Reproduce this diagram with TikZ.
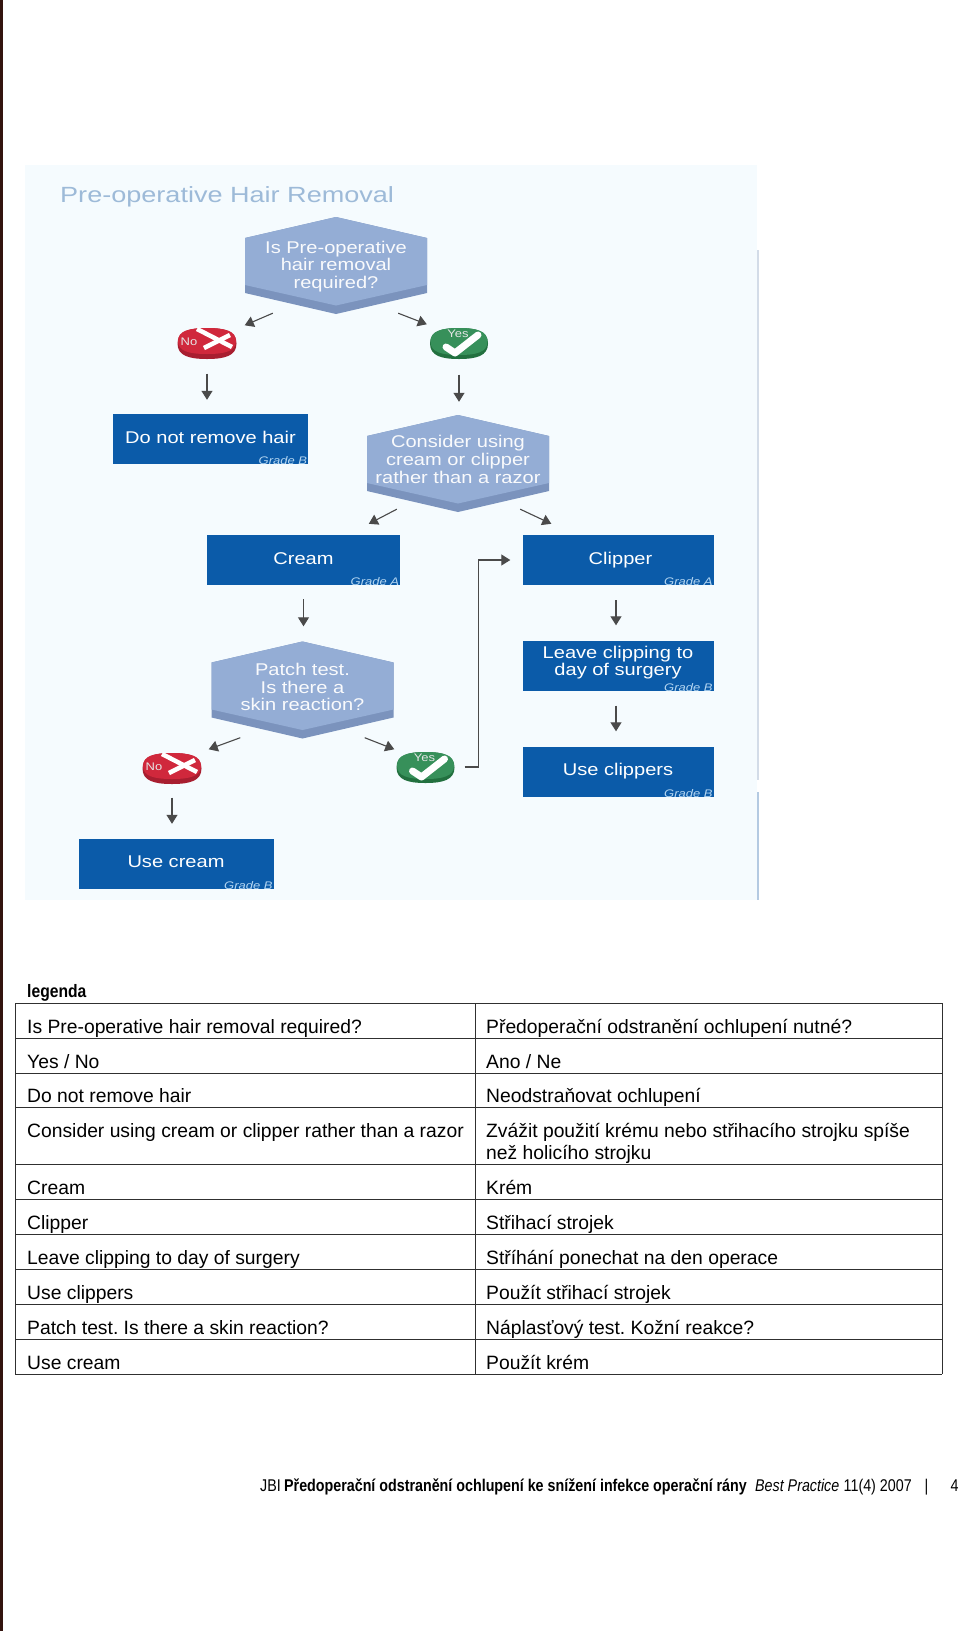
\documentclass[tikz,border=0pt]{standalone}
\usepackage{fontspec}
\setmainfont{Liberation Sans}
\newfontfamily\wideface[FakeStretch=1.18]{Liberation Sans}
\newfontfamily\titleface[FakeStretch=1.23]{Liberation Sans}
\newfontfamily\narrowface[FakeStretch=.84]{Liberation Sans}
\newfontfamily\legendface[FakeStretch=.87]{Liberation Sans}
\usetikzlibrary{arrows.meta}

\definecolor{scanbg}{HTML}{F5FBFE}
\definecolor{edgeline}{HTML}{D3DCE8}
\definecolor{edgeblue}{HTML}{B4CAE2}
\definecolor{pagebar}{HTML}{33140F}
\definecolor{hexface}{HTML}{94ADD5}
\definecolor{hexrim}{HTML}{7B93BD}
\definecolor{boxblue}{HTML}{0B5BA9}
\definecolor{gradeblue}{HTML}{B4D6F2}
\definecolor{titleblue}{HTML}{9DBAD8}
\definecolor{flowgrey}{HTML}{4A4A4A}
\definecolor{nored}{HTML}{D0283C}
\definecolor{norim}{HTML}{A81E30}
\definecolor{yesgreen}{HTML}{37905A}
\definecolor{yesrim}{HTML}{22703F}
\definecolor{rulegrey}{HTML}{303030}

\tikzset{
	flowarrow/.style={draw=flowgrey, line width=1.1pt, -{Triangle[length=9pt,width=11pt]}},
	bluebox/.style={fill=boxblue, minimum width=#1, minimum height=50pt, inner sep=0pt,
		text=white, align=center, font=\wideface\fontsize{17}{17.6}\selectfont, text depth=3pt},
	bluebox/.default=193pt,
	gradelabel/.style={anchor=south east, inner sep=0pt, text=gradeblue,
		font=\wideface\fontsize{11}{12}\itshape\selectfont},
	hexanchor/.style={minimum width=182pt, minimum height=97pt, inner sep=0pt},
	hextext/.style={text=white!94!hexface, align=center, inner sep=0pt,
		font=\wideface\fontsize{17}{17.6}\selectfont},
	badgetext/.style={text=white!90!black, inner sep=0pt, font=\wideface\fontsize{11}{12}\selectfont},
	tabletext/.style={anchor=base west, inner sep=0pt, font=\frenchspacing\fontsize{19.3}{22}\selectfont},
	foottext/.style={anchor=base west, inner sep=0pt, font=\narrowface\fontsize{17}{20}\selectfont},
}

% name, x, y, text shift, text
\newcommand{\hexbox}[5]{
	\begin{scope}[shift={(#2,#3)}]
		\fill[hexrim] (0,-48.5) -- (91,-27.5) -- (91,27.5) -- (0,48.5) -- (-91,27.5) -- (-91,-27.5) -- cycle;
		\fill[hexface] (0,-48.5) -- (91,-27.5) -- (91,19.5) -- (0,40) -- (-91,19.5) -- (-91,-27.5) -- cycle;
	\end{scope}
	\node[hexanchor] (#1) at (#2,#3) {};
	\node[hextext] (#1-text) at ([yshift=#4]#1) {#5};
}
% half width, half height of a badge outline
\newcommand{\badgeoutline}[2]{
	(-#1,0) .. controls (-#1,-0.8*#2) and (-0.6*#1,-#2) .. (0,-#2)
	.. controls (0.6*#1,-#2) and (#1,-0.8*#2) .. (#1,0)
	.. controls (#1,0.8*#2) and (0.6*#1,#2) .. (0,#2)
	.. controls (-0.6*#1,#2) and (-#1,0.8*#2) .. (-#1,0) -- cycle
}
% name, x, y
\newcommand{\nobadge}[3]{
	\begin{scope}[shift={(#2,#3)}]
		\fill[norim, yshift=-0.5pt] \badgeoutline{29.5}{15.5};
		\fill[nored, yshift=2pt] \badgeoutline{29}{13};
		\draw[white, line width=4.5pt] (-10,-14) -- (25,4);
		\draw[white, line width=4.5pt] (-3,5) -- (23,-8);
	\end{scope}
	\node[minimum width=59pt, minimum height=31pt, inner sep=0pt] (#1) at (#2,#3) {};
	\node[badgetext] (#1-text) at ([shift={(-18pt,1pt)}]#1) {No};
}
\newcommand{\yesbadge}[3]{
	\begin{scope}[shift={(#2,#3)}]
		\fill[yesrim, yshift=-0.5pt] \badgeoutline{29}{15.5};
		\fill[yesgreen, yshift=1.5pt] \badgeoutline{28.5}{13.5};
		\draw[white, line width=7pt, line join=round, line cap=round] (-13,4) -- (-4,10) -- (19,-8);
	\end{scope}
	\node[minimum width=58pt, minimum height=31pt, inner sep=0pt] (#1) at (#2,#3) {};
	\node[badgetext] (#1-text) at ([shift={(-1pt,9pt)}]#1) {Yes};
}

\begin{document}
\begin{tikzpicture}[x=1pt,y=-1pt]
	\useasboundingbox (0,0) rectangle (960,1631);

	% scan background
	\fill[pagebar] (0,0) rectangle (2.5,1631);
	\fill[scanbg] (25,165) rectangle (757,900);
	\draw[edgeline, line width=1.5pt] (758,250) -- (758,780);
	\draw[edgeblue, line width=1.5pt] (758,792) -- (758,900);

	\node[anchor=base west, inner sep=0pt, text=titleblue, font=\titleface\fontsize{22}{24}\selectfont] (title) at (60,202) {Pre-operative Hair Removal};

	% decisions
	\hexbox{hexrequired}{336}{265.5}{-1pt}{Is Pre-operative\\hair removal\\required?}
	\hexbox{hexconsider}{458}{463.5}{4pt}{Consider using\\cream or clipper\\rather than a razor}
	\hexbox{hexpatch}{302.5}{690}{3pt}{Patch test.\\Is there a\\skin reaction?}

	% badges
	\nobadge{noone}{207}{343}
	\yesbadge{yesone}{459}{343}
	\nobadge{notwo}{172}{768}
	\yesbadge{yestwo}{425.5}{767}

	% boxes
	\node[bluebox=195pt] (boxnohair) at (210.5,439) {Do not remove hair};
	\node[bluebox=193pt] (boxcream) at (303.5,560) {Cream};
	\node[bluebox=191pt] (boxclipper) at (618,560) {\hspace{5pt}Clipper};
	\node[bluebox=191pt, text depth=9pt] (boxleave) at (618,665.5) {Leave clipping to\\day of surgery};
	\node[bluebox=191pt, text depth=5pt] (boxuseclip) at (618,771.5) {Use clippers};
	\node[bluebox=195pt, text depth=5pt] (boxusecream) at (176,864) {Use cream};

	% grades
	\foreach \boxname/\grade in {boxnohair/B, boxcream/A, boxclipper/A, boxleave/B, boxuseclip/B, boxusecream/B}
		\node[gradelabel] (\boxname-grade) at ([xshift=-1pt,yshift=-1pt]\boxname.south east) {Grade \grade};

	% arrows
	\draw[flowarrow] ([xshift=28pt,yshift=1pt]hexrequired.south west) -- ([xshift=8pt,yshift=2pt]noone.north east);
	\draw[flowarrow] ([xshift=-29pt,yshift=1pt]hexrequired.south east) -- ([xshift=-3pt,yshift=3pt]yesone.north west);
	\draw[flowarrow] ([yshift=-15pt]noone.south) -- ([yshift=14pt]noone.south |- boxnohair.north);
	\draw[flowarrow] ([yshift=-16pt]yesone.south) -- ([yshift=13pt]yesone.south |- hexconsider.north);
	\draw[flowarrow] ([xshift=30pt,yshift=3pt]hexconsider.south west) -- ([xshift=162pt,yshift=11pt]boxcream.north west);
	\draw[flowarrow] ([xshift=-29pt,yshift=3pt]hexconsider.south east) -- ([xshift=29pt,yshift=11pt]boxclipper.north west);
	\draw[flowarrow] ([yshift=-14pt]boxcream.south) -- ([yshift=15pt]boxcream.south |- hexpatch.north);
	\draw[flowarrow] ([xshift=-2pt,yshift=-15pt]boxclipper.south) -- ([xshift=-2pt,yshift=15pt]boxclipper.south |- boxleave.north);
	\draw[flowarrow] ([xshift=-2pt,yshift=-15pt]boxleave.south) -- ([xshift=-2pt,yshift=15pt]boxleave.south |- boxuseclip.north);
	\draw[flowarrow] ([xshift=29pt,yshift=1pt]hexpatch.south west) -- ([xshift=7pt,yshift=3pt]notwo.north east);
	\draw[flowarrow] ([xshift=-29pt,yshift=1pt]hexpatch.south east) -- ([xshift=-2pt,yshift=2pt]yestwo.north west);
	\draw[flowarrow] ([yshift=-14pt]notwo.south) -- ([yshift=15pt]notwo.south |- boxusecream.north);
	\draw[flowarrow] ([xshift=10pt]yestwo.east) -- ++(14,0) |- ([xshift=-12pt]boxclipper.west);

	% legend
	\node[anchor=base west, inner sep=0pt, font=\legendface\fontsize{18}{20}\bfseries\selectfont] (legendtitle) at (27,997) {legenda};
	\foreach \yrule in {1003,1038,1073,1107,1164,1199,1234,1269,1304,1339,1374}
		\draw[rulegrey, line width=1pt] (15,\yrule) -- (942,\yrule);
	\draw[rulegrey, line width=1pt] (15,1003) -- (15,1374);
	\draw[rulegrey, line width=1pt] (475,1003) -- (475,1374);
	\draw[rulegrey, line width=1pt] (942,1003) -- (942,1374);
	\foreach \ybase/\lefttext/\righttext in {
		1033/{Is Pre-operative hair removal required?}/{Předoperační odstranění ochlupení nutné?},
		1068/{Yes / No}/{Ano / Ne},
		1102/{Do not remove hair}/{Neodstraňovat ochlupení},
		1137/{Consider using cream or clipper rather than a razor}/{Zvážit použití krému nebo střihacího strojku spíše},
		1159/{}/{než holicího strojku},
		1194/{Cream}/{Krém},
		1229/{Clipper}/{Střihací strojek},
		1264/{Leave clipping to day of surgery}/{Stříhání ponechat na den operace},
		1299/{Use clippers}/{Použít střihací strojek},
		1334/{Patch test. Is there a skin reaction?}/{Náplasťový test. Kožní reakce?},
		1369/{Use cream}/{Použít krém}} {
		\node[tabletext] (left\ybase) at (27,\ybase) {\lefttext};
		\node[tabletext] (right\ybase) at (486,\ybase) {\righttext};
	}

	% footer
	\node[foottext] (footjbi) at (260,1491) {JBI};
	\node[foottext] (foottitle) at (284,1491) {\bfseries Předoperační odstranění ochlupení ke snížení infekce operační rány};
	\node[foottext] (footjournal) at (755,1491) {\itshape Best Practice};
	\node[foottext] (footissue) at (843.5,1491) {11(4) 2007};
	\node[foottext] (footbar) at (924.5,1491) {|};
	\node[foottext] (footpage) at (950.5,1491) {4};
\end{tikzpicture}
\end{document}
